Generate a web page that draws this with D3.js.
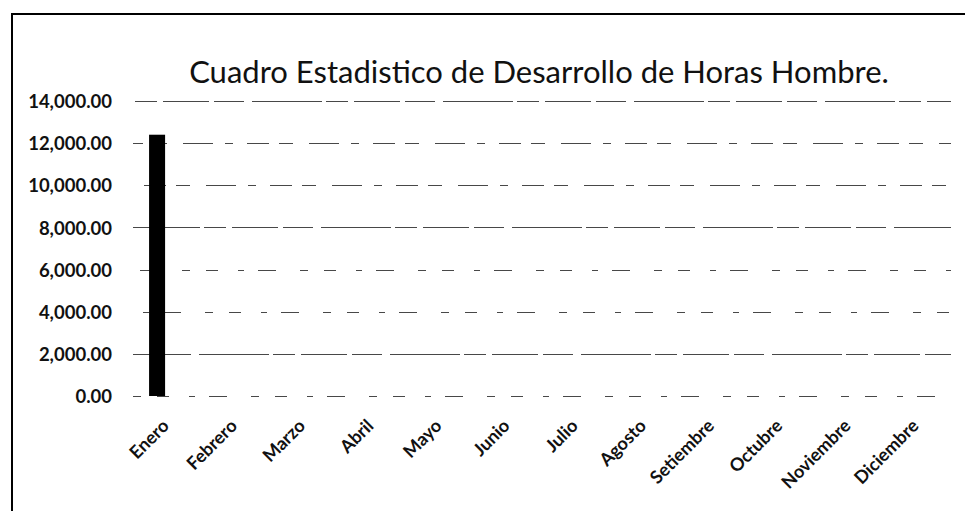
<!DOCTYPE html>
<html>
<head>
<meta charset="utf-8">
<script src="https://cdn.jsdelivr.net/npm/d3@7"></script>
<style>
  html, body { margin: 0; padding: 0; background: #fff; }
  svg { display: block; }
  text { font-family: Lato, "Open Sans", sans-serif; fill: #111; }
</style>
</head>
<body>
<svg id="chart" width="965" height="511"></svg>
<script>
// Monthly man-hours
const months = ["Enero", "Febrero", "Marzo", "Abril", "Mayo", "Junio",
                "Julio", "Agosto", "Setiembre", "Octubre", "Noviembre", "Diciembre"];
const horasHombre = [12400, 0, 0, 0, 0, 0, 0, 0, 0, 0, 0, 0];
const yTicks = [0, 2000, 4000, 6000, 8000, 10000, 12000, 14000];
const chartTitle = "Cuadro Estadistico de Desarrollo de Horas Hombre.";

const svg = d3.select("#chart");
const W = 965, H = 511;
const plot = { left: 123, right: 941, top: 101, bottom: 396 };
const grid = { x1: 133, x2: 951 };

// broken gridline patterns: dense lines vs. sparse lines
const dense = "46,5,30,8,70,4,22,6";
const medium = "22,10,14,16,30,12,8,14";
const sparse = "8,16,12,20,6,14,18,24";
const gridDash = { 0: sparse, 2000: dense, 4000: sparse, 6000: sparse,
                   8000: dense, 10000: medium, 12000: medium, 14000: dense };

// outer frame (top and left edges visible)
svg.append("path")
  .attr("d", `M12,${H} L12,14 L${W},14`)
  .attr("fill", "none").attr("stroke", "#000").attr("stroke-width", 2);

const x = d3.scaleBand().domain(months)
  .range([plot.left, plot.right]).paddingInner(0.765).paddingOuter(0.3825);
const y = d3.scaleLinear().domain([0, 14000]).range([plot.bottom, plot.top]);

// gridlines
svg.append("g").selectAll("line").data(yTicks).join("line")
  .attr("x1", grid.x1).attr("x2", grid.x2)
  .attr("y1", d => Math.round(y(d)) + 0.5).attr("y2", d => Math.round(y(d)) + 0.5)
  .attr("stroke", "#333").attr("stroke-width", 0.9)
  .attr("stroke-dasharray", d => gridDash[d])
  .attr("stroke-dashoffset", (d, i) => i * 23);

// y axis labels
const yAxis = d3.axisLeft(y).tickValues(yTicks).tickFormat(d3.format(",.2f")).tickSize(0).tickPadding(0);
svg.append("g").attr("transform", `translate(112,0)`).call(yAxis)
  .call(g => g.select(".domain").remove())
  .selectAll("text")
  .style("font-size", "18.5px").style("font-weight", "700")
  .attr("dy", "0.36em");

// bars
svg.append("g").selectAll("rect").data(months.map((m, i) => ({ m, v: horasHombre[i] })))
  .join("rect")
  .attr("x", d => x(d.m)).attr("width", x.bandwidth())
  .attr("y", d => y(d.v)).attr("height", d => y(0) - y(d.v))
  .attr("fill", "#000");

// x axis labels
const xAxis = d3.axisBottom(x).tickSize(0).tickPadding(0);
svg.append("g").attr("transform", `translate(0,${plot.bottom})`).call(xAxis)
  .call(g => g.select(".domain").remove())
  .selectAll("text")
  .style("font-size", "18px").style("font-weight", "700")
  .attr("text-anchor", "end")
  .attr("dy", null).attr("y", null)
  .attr("transform", "translate(13,31) rotate(-45)");

// title
svg.append("text")
  .attr("x", 539).attr("y", 83)
  .attr("text-anchor", "middle")
  .style("font-size", "31px")
  .text(chartTitle);
</script>
</body>
</html>
